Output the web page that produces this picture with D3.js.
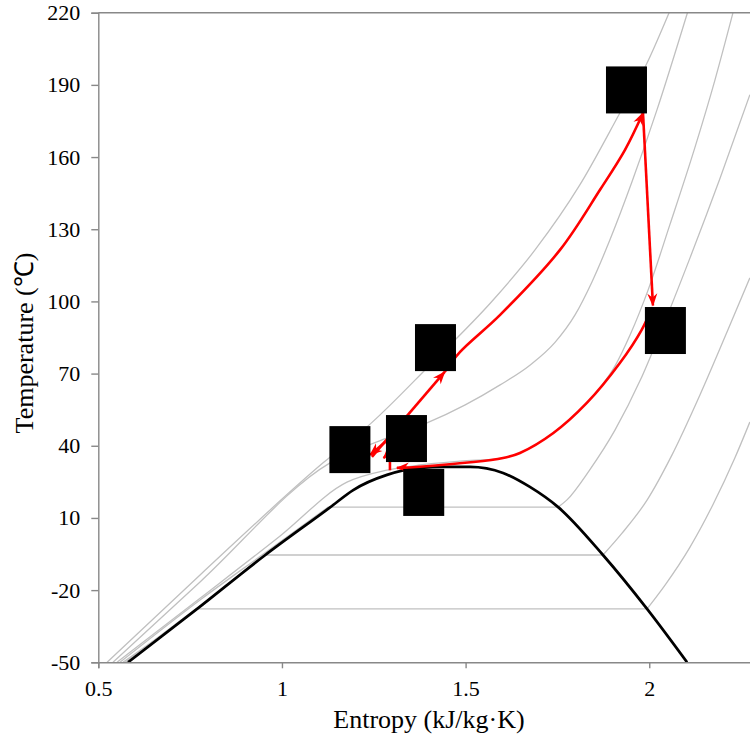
<!DOCTYPE html>
<html><head><meta charset="utf-8">
<script src="https://cdn.jsdelivr.net/npm/d3@7"></script>
<style>body{margin:0;background:#fff}svg{display:block}</style>
</head><body>
<svg id="c" width="750" height="738"></svg>
<script>
// ---- data (entropy s in kJ/kg·K, temperature T in °C) ----
const xTicks = [0.5, 1, 1.5, 2];
const yTicks = [-50, -20, 10, 40, 70, 100, 130, 160, 190, 220];

// saturation dome
const dome = [[0.581,-50],[0.769,-27.8],[0.953,-5.6],[1.131,14.4],[1.194,21.6],[1.286,27.9],[1.376,30.8],[1.444,31.2],[1.512,31.2],[1.602,28.7],[1.675,22.9],[1.752,14.5],[1.874,-5.4],[1.994,-27.8],[2.103,-50]];

// supercritical isobars (gray)
const isoA = [[0.524,-50],[0.777,-13.7],[1.112,32.9],[1.240,49.0],[1.403,73.6],[1.575,100.6],[1.689,121.4],[1.811,148.4],[1.920,178.3],[1.994,199.1],[2.054,220]];
const isoC = [[0.540,-50],[0.777,-16.6],[1.131,32.9],[1.290,43.5],[1.395,49.5],[1.499,57.0],[1.594,65.3],[1.676,73.6],[1.744,83.1],[1.798,94.4],[1.844,108.1],[1.893,125.6],[1.953,149.7],[2.021,179.6],[2.104,220]];
const isoG = [[0.551,-50],[0.777,-23.4],[0.995,2.5],[1.177,24.9],[1.286,29.9],[1.376,32.0],[1.485,33.6],[1.602,34.9],[1.648,37.0],[1.738,45.3],[1.830,57.8],[1.866,64.1],[1.907,73.2],[1.948,86.1],[1.997,104.8],[2.056,131.8],[2.124,163.8],[2.179,192.1],[2.228,220]];
// subcritical isobars: liquid branch, then vapour branch (joined by a flat two-phase segment)
const isoDLiq = [[0.559,-50],[0.777,-24.1],[0.957,-4.2],[1.126,14.5]];
const isoDVap = [[1.752,14.5],[1.776,17.5],[1.838,30.0],[1.907,46.6],[1.976,67.4],[2.030,86.9],[2.111,118.1],[2.193,151.3],[2.274,185.9]];
const isoELiq = [[0.567,-50],[0.766,-28.3],[0.948,-5.4]];
const isoEVap = [[1.874,-5.4],[1.926,3.7],[1.994,17.4],[2.062,36.2],[2.138,61.1],[2.214,88.1],[2.274,109.8]];
const isoFLiq = [[0.573,-50],[0.766,-27.8]];
const isoFVap = [[1.994,-27.8],[2.043,-17.9],[2.111,-2.1],[2.173,15.4],[2.233,34.9],[2.274,49.9]];

// cycle (red)
const redPump = [[1.245,35.4],[1.443,70.7]];
const redHeat = [[1.443,70.7],[1.485,79.0],[1.594,94.4],[1.757,121.4],[1.866,146.4],[1.934,163.0],[1.983,178.3]];
const redExpand = [[1.983,178.3],[2.010,98.3]];
const redCool = [[2.008,97.6],[1.979,88.1],[1.920,74.4],[1.830,57.8],[1.739,45.3],[1.648,37.0],[1.602,34.9],[1.376,31.3],[1.313,30.8]];
const redShort = [[1.294,29.8],[1.294,33.7]];
const redBack1 = [[1.335,48.6],[1.240,36.2]];
const redBack2 = [[1.321,42.4],[1.277,34.9]];

// black label boxes (centres)
const labelBoxes = [[1.185,38.4],[1.339,43.0],[1.418,80.8],[1.386,20.6],[2.044,87.9],[1.938,187.9]];

// ---- drawing ----
const svg = d3.select('#c');
const x = d3.scaleLinear().domain([0.5, 2.5]).range([98.3, 832.9]);
const y = d3.scaleLinear().domain([-50, 220]).range([662.3, 12.7]);
const axisColor = '#888888';
const serif = '"Liberation Serif", "Times New Roman", serif';

const defs = svg.append('defs');
defs.append('clipPath').attr('id','clip')
  .append('rect').attr('x',98.3).attr('y',12.7).attr('width',660).attr('height',649.6);
const mk = defs.append('marker').attr('id','arr')
  .attr('viewBox','-13 -6 15 12').attr('refX',0).attr('refY',0)
  .attr('markerWidth',15).attr('markerHeight',12).attr('markerUnits','userSpaceOnUse')
  .attr('orient','auto');
mk.append('path').attr('d','M1,0 L-12,-5 L-8,0 L-12,5 Z').attr('fill','#ff0000');

const smooth = d3.line().x(d=>x(d[0])).y(d=>y(d[1])).curve(d3.curveMonotoneX);
const straight = d3.line().x(d=>x(d[0])).y(d=>y(d[1]));

const g = svg.append('g').attr('clip-path','url(#clip)');
const grayPaths = [
  smooth(isoA), smooth(isoC), smooth(isoG),
  smooth(isoDLiq), straight([isoDLiq[isoDLiq.length-1], isoDVap[0]]), smooth(isoDVap),
  smooth(isoELiq), straight([isoELiq[isoELiq.length-1], isoEVap[0]]), smooth(isoEVap),
  smooth(isoFLiq), straight([isoFLiq[isoFLiq.length-1], isoFVap[0]]), smooth(isoFVap)
];
g.selectAll('path.iso').data(grayPaths).join('path').attr('class','iso')
  .attr('d', d=>d).attr('fill','none').attr('stroke','#c0c0c0').attr('stroke-width',1.3);
g.append('path').attr('d', smooth(dome)).attr('fill','none').attr('stroke','#000').attr('stroke-width',2.7);

const reds = [[redPump,true,false],[redHeat,true,true],[redExpand,true,false],[redCool,true,true],[redShort,false,false],[redBack1,true,false],[redBack2,true,false]];
reds.forEach(([pts,arrow,curved])=>{
  const p = curved ? d3.line().x(d=>x(d[0])).y(d=>y(d[1])).curve(d3.curveCatmullRom.alpha(0.5))(pts) : straight(pts);
  g.append('path').attr('d', p)
   .attr('fill','none').attr('stroke','#ff0000').attr('stroke-width',2.6)
   .attr('marker-end', arrow ? 'url(#arr)' : null);
});

g.selectAll('rect.lbl').data(labelBoxes).join('rect').attr('class','lbl')
  .attr('x', d=>x(d[0])-20.5).attr('y', d=>y(d[1])-23.5).attr('width',41).attr('height',47).attr('fill','#000');

// axes
const yAxis = svg.append('g').attr('transform','translate(98.3,0)')
  .call(d3.axisLeft(y).tickValues(yTicks).tickSize(7).tickPadding(11).tickFormat(d=>String(d)));
const xAxis = svg.append('g').attr('transform','translate(0,662.3)')
  .call(d3.axisBottom(x).tickValues(xTicks).tickSize(6).tickPadding(12).tickFormat(d=>String(d)));
[yAxis,xAxis].forEach(a=>{
  a.select('.domain').attr('stroke',axisColor).attr('stroke-width',1.4);
  a.selectAll('.tick line').attr('stroke',axisColor).attr('stroke-width',1.4);
  a.selectAll('.tick text').attr('fill','#000').style('font-family',serif).style('font-size','22px');
});
svg.append('line').attr('x1',98.3).attr('x2',750).attr('y1',12.7).attr('y2',12.7)
  .attr('stroke',axisColor).attr('stroke-width',1.4);

svg.append('text').attr('x',429).attr('y',728).attr('text-anchor','middle')
  .style('font-family',serif).style('font-size','26px')
  .text('Entropy (kJ/kg·K)');
svg.append('text').attr('transform','translate(33,343) rotate(-90)').attr('text-anchor','middle')
  .style('font-family',serif).style('font-size','26px')
  .text('Temperature (℃)');
</script>
</body></html>
